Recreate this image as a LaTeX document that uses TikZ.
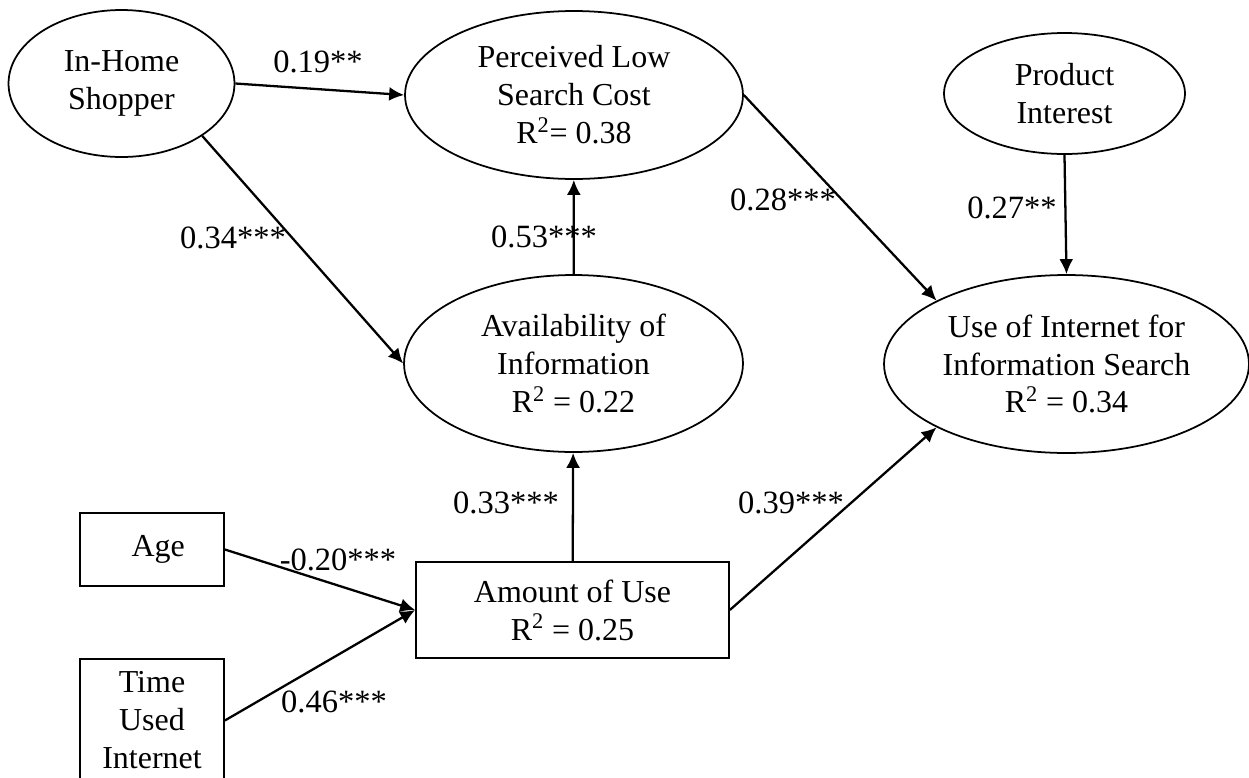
\documentclass[tikz,border=0pt]{standalone}
\usepackage{fontspec}
\setmainfont{Liberation Serif}
\usepackage{tikz}
\usetikzlibrary{positioning,arrows.meta,shapes.geometric}
\tikzset{
    construct/.style = {
        draw,
        shape=ellipse,
        inner sep=0pt,
        align=center,
        line width=1pt
    },
    measure/.style = {
        draw,
        shape=rectangle,
        inner sep=0pt,
        align=center,
        line width=1pt
    },
    coef/.style = {
        shape=rectangle,
        inner sep=0pt,
        font=\fontsize{18.5}{22}\selectfont
    },
    path/.style = {
        draw,
        line width=1.3pt,
        ->
    },
    >={Latex[length=3mm,width=2.8mm]},
}

\begin{document}
\begin{tikzpicture}[x=0.02cm, y=-0.02cm, font=\fontsize{18.2}{21.6}\selectfont]
                \useasboundingbox (0,0) rectangle (1249,778);

                \node[construct, minimum width=4.52cm, minimum height=2.94cm] (shop) at (121.5,83.5) {In-Home\\Shopper};
                \node[construct, minimum width=6.76cm, minimum height=3.36cm] (cost) at (574,95) {Perceived Low\\Search Cost\\R\textsuperscript{2}= 0.38};
                \node[construct, minimum width=4.82cm, minimum height=2.42cm] (prod) at (1064.5,93.5) {Product\\Interest};
                \node[construct, minimum width=6.78cm, minimum height=3.54cm] (avail) at (573.5,363.5) {Availability of\\Information\\R\textsuperscript{2} = 0.22};
                \node[construct, minimum width=7.3cm, minimum height=3.56cm] (search) at (1066.5,364) {Use of Internet for\\Information Search\\R\textsuperscript{2} = 0.34};
                \node[measure, minimum width=6.26cm, minimum height=1.92cm] (amount) at (572.5,610) {Amount of Use\\R\textsuperscript{2} = 0.25};
                \node[measure, minimum width=2.88cm, minimum height=1.46cm] (age) at (152,549.5) {\hspace{0.25cm}Age};
                \node[measure, minimum width=2.88cm, minimum height=2.46cm] (time) at (152,720.5) {Time\\Used\\Internet};

                \path[path] (shop.east) -- (cost.west);
                \path[path] (shop.-33) -- (avail.west);
                \path[path] (avail) -- (cost);
                \path[path] (cost.east) -- (search.154);
                \path[path] (prod.south) -- (search.north);
                \path[path] (amount) -- (avail);
                \path[path] (amount.east) -- (search.206);
                \path[path] (age.east) -- (amount.west);
                \path[path] (time.east) -- (amount.west);

                % path coefficients
                \node[coef] (c19) at (318,62) {0.19**};
                \node[coef] (c34) at (233,238) {0.34***};
                \node[coef] (c53) at (544,237) {0.53***};
                \node[coef] (c28) at (783,200) {0.28***};
                \node[coef] (c27) at (1012,208) {0.27**};
                \node[coef] (c33) at (506,503) {0.33***};
                \node[coef] (c39) at (791,503) {0.39***};
                \node[coef] (c20) at (338,560) {-0.20***};
                \node[coef] (c46) at (334,702) {0.46***};
            \end{tikzpicture}
\end{document}
